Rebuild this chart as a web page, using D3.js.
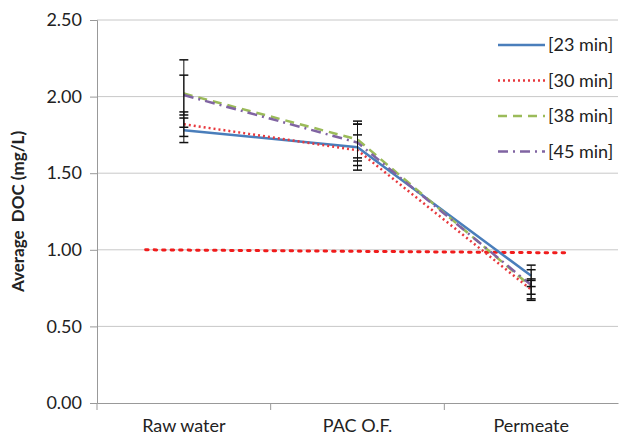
<!DOCTYPE html>
<html>
<head>
<meta charset="utf-8">
<script src="https://cdn.jsdelivr.net/npm/d3@7"></script>
<style>
  body { margin: 0; background: #fff; }
  text { font-family: Lato, "Open Sans", sans-serif; fill: #222; }
</style>
</head>
<body>
<svg id="chart" width="622" height="444"></svg>
<script>
const categories = ['Raw water', 'PAC O.F.', 'Permeate'];
const seriesNames = ['[23 min]', '[30 min]', '[38 min]', '[45 min]'];
const values23 = [1.78, 1.67, 0.83];
const values30 = [1.82, 1.65, 0.74];
const values38 = [2.02, 1.72, 0.76];
const values45 = [2.01, 1.70, 0.77];
const err23 = [0.08, 0.15, 0.07];
const err30 = [0.08, 0.10, 0.06];
const err38 = [0.22, 0.12, 0.05];
const err45 = [0.13, 0.12, 0.10];
const yTicks = [0, 0.5, 1, 1.5, 2, 2.5];
const refLine = [{ i: -0.22, v: 1.0 }, { i: 2.22, v: 0.98 }];

const colors = ['#4a7ebb', '#e8383d', '#9bbb59', '#8064a2'];
const dashes = [null, '2,3', '9,6', '10,5,2,5'];

const series = seriesNames.map((name, k) => ({
  name,
  values: [values23, values30, values38, values45][k],
  errs: [err23, err30, err38, err45][k],
  color: colors[k],
  dash: dashes[k]
}));

const svg = d3.select('#chart');
const plot = { left: 97, right: 618, top: 20, bottom: 403 };

const x = d3.scaleBand().domain(categories).range([plot.left, plot.right]);
const xi = d3.scaleLinear().domain([-0.5, 2.5]).range([plot.left, plot.right]);
const y = d3.scaleLinear().domain([0, 2.5]).range([plot.bottom, plot.top]);

// gridlines
svg.append('g')
  .selectAll('line')
  .data(yTicks.filter((t) => t > 0))
  .join('line')
  .attr('x1', plot.left)
  .attr('x2', plot.right)
  .attr('y1', (d) => y(d))
  .attr('y2', (d) => y(d))
  .attr('stroke', '#c8c8c8')
  .attr('stroke-width', 1);

// y axis
const yAxis = svg.append('g')
  .attr('transform', `translate(${plot.left},0)`)
  .call(d3.axisLeft(y).tickValues(yTicks).tickFormat(d3.format('.2f')).tickSize(7).tickPadding(8));
yAxis.select('.domain').attr('stroke', '#999');
yAxis.selectAll('.tick line').attr('stroke', '#999');
yAxis.selectAll('.tick text').attr('font-size', 18).attr('fill', '#333');

// x axis
const xAxis = svg.append('g')
  .attr('transform', `translate(0,${plot.bottom})`)
  .call(d3.axisBottom(x).tickSize(0).tickPadding(16));
xAxis.select('.domain').attr('stroke', '#999');
xAxis.selectAll('.tick text').attr('font-size', 18).attr('fill', '#222');
xAxis.selectAll('.sep')
  .data(categories)
  .join('line')
  .attr('x1', (d) => x(d))
  .attr('x2', (d) => x(d))
  .attr('y1', 0)
  .attr('y2', 7)
  .attr('stroke', '#999');

// y label
svg.append('text')
  .attr('transform', `translate(24,${(plot.top + plot.bottom) / 2}) rotate(-90)`)
  .attr('text-anchor', 'middle')
  .attr('font-size', 17)
  .attr('font-weight', 'bold')
  .attr('xml:space', 'preserve')
  .style('white-space', 'pre')
  .text('Average  DOC (mg/L)');

// reference line
svg.append('path')
  .datum(refLine)
  .attr('fill', 'none')
  .attr('stroke', '#f01c1c')
  .attr('stroke-width', 3)
  .attr('stroke-dasharray', '2.5,6')
  .attr('stroke-linecap', 'round')
  .attr('d', d3.line().x((d) => xi(d.i)).y((d) => y(d.v)));

const cx = (i) => x(categories[i]) + x.bandwidth() / 2;

// series lines
svg.append('g')
  .selectAll('path')
  .data(series)
  .join('path')
  .attr('fill', 'none')
  .attr('stroke', (d) => d.color)
  .attr('stroke-width', 2.5)
  .attr('stroke-dasharray', (d) => d.dash)
  .attr('d', (d) => d3.line().x((v, i) => cx(i)).y((v) => y(v))(d.values));

// error bars
const errData = series.flatMap((s) => s.values.map((v, i) => ({ i, v, e: s.errs[i] })));
const eb = svg.append('g').attr('stroke', '#111').attr('stroke-width', 1);
eb.selectAll('.stem')
  .data(errData)
  .join('line')
  .attr('x1', (d) => cx(d.i))
  .attr('x2', (d) => cx(d.i))
  .attr('y1', (d) => y(d.v - d.e))
  .attr('y2', (d) => y(d.v + d.e));
eb.selectAll('.cap')
  .data(errData.flatMap((d) => [{ i: d.i, v: d.v - d.e }, { i: d.i, v: d.v + d.e }]))
  .join('line')
  .attr('x1', (d) => cx(d.i) - 4.5)
  .attr('x2', (d) => cx(d.i) + 4.5)
  .attr('y1', (d) => y(d.v))
  .attr('y2', (d) => y(d.v))
  .attr('stroke-width', 1.5);

// legend
const legend = svg.append('g').attr('transform', 'translate(498,45)');
const item = legend.selectAll('g')
  .data(series)
  .join('g')
  .attr('transform', (d, i) => `translate(0,${i * 35.5})`);
item.append('line')
  .attr('x1', 0)
  .attr('x2', 47)
  .attr('stroke', (d) => d.color)
  .attr('stroke-width', 2.5)
  .attr('stroke-dasharray', (d) => d.dash);
item.append('text')
  .attr('x', 50)
  .attr('y', 6)
  .attr('font-size', 18)
  .text((d) => d.name);
</script>
</body>
</html>
